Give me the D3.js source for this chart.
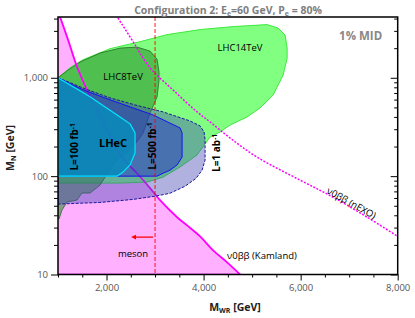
<!DOCTYPE html>
<html>
<head>
<meta charset="utf-8">
<script src="https://cdn.jsdelivr.net/npm/d3@7"></script>
<style>
  body { margin: 0; background: #fff; }
</style>
</head>
<body>
<div id="chart"></div>
<script>
const W = 415,
    H = 318,
    margin = {top: 17, right: 17.3, bottom: 43.5, left: 58};

// curves and regions, [M_WR (GeV), M_N (GeV)]
const kamland = [[1000, 4760], [1206, 2444], [1392, 1294], [1598, 755], [1825, 450], [2031, 281],
    [2217, 184], [2423, 136], [2629, 107], [2897, 75.5], [3103, 56.9], [3454, 38.2], [3660, 31.6],
    [3928, 24.4], [4196, 17.6], [4485, 13.3], [4753, 10]];

const nexo = [[2120, 5000], [2547, 2329], [2897, 1265], [3413, 719], [3866, 450], [4134, 356],
    [4547, 244], [5103, 156], [5990, 91], [6671, 61], [7372, 38.2], [8000, 24.4]];

const lhc14 = [[1000, 1000], [1247, 1265], [1515, 1527], [2072, 1977], [2691, 2329], [3247, 2747],
    [3928, 3090], [4608, 3314], [5309, 3474], [5536, 3200], [5680, 2716], [5722, 2006], [5722, 1585],
    [5639, 1065], [5433, 667], [5165, 494], [4897, 400], [4547, 331], [4340, 281], [4134, 250],
    [3866, 164], [3516, 124], [3165, 97.7], [2835, 86.9], [2278, 85], [1866, 85], [1000, 85]];

const lhc8 = [[1000, 1000], [1206, 1197], [1454, 1445], [1866, 1784], [2278, 2004], [2629, 2051],
    [2897, 1867], [3041, 1549], [3082, 1143], [3082, 948], [3041, 637], [2897, 438], [2753, 274],
    [2546, 198], [2216, 146], [2010, 105], [1866, 81], [1660, 67.3], [1495, 67.3], [1392, 57.2],
    [1186, 54.6], [1082, 45.2], [1021, 36.6], [1000, 36.6]];

const lhec100 = [[1000, 1000], [1660, 640], [2278, 400], [2485, 340], [2588, 275], [2588, 172],
    [2485, 130], [2340, 110], [2216, 100], [1000, 100]];

const lhec500 = [[1000, 1000], [1515, 755], [2072, 597], [2546, 494], [2959, 419], [3516, 309],
    [3557, 275], [3557, 156], [3454, 130], [3309, 115], [3165, 107], [3041, 100], [1000, 100]];

const lhec1000 = [[1000, 1000], [1557, 773], [2072, 625], [2588, 530], [3165, 450], [3722, 364],
    [3928, 324], [4010, 281], [4031, 233], [4031, 146], [3969, 115], [3845, 95], [3619, 79],
    [3309, 67], [3000, 62.5], [2546, 58], [1866, 54], [1000, 52]];

const mesonBound = 3000;

const xMajor = [2000, 4000, 6000, 8000],
    xMinor = [1000, 1500, 2500, 3000, 3500, 4500, 5000, 5500, 6500, 7000, 7500],
    yMajor = [10, 100, 1000],
    yMinor = [20, 30, 40, 50, 60, 70, 80, 90, 200, 300, 400, 500, 600, 700, 800, 900, 2000, 3000, 4000];

const x = d3.scaleLinear().domain([1000, 8000]).range([margin.left, W - margin.right]);
const y = d3.scaleLog().domain([10, 4150]).range([H - margin.bottom, margin.top]);

const svg = d3.select('#chart').append('svg')
    .attr('width', W)
    .attr('height', H)
    .style('font-family', 'Open Sans');

svg.append('clipPath').attr('id', 'plot-clip')
    .append('rect')
    .attr('x', margin.left).attr('y', margin.top)
    .attr('width', W - margin.left - margin.right)
    .attr('height', H - margin.top - margin.bottom);

const plot = svg.append('g').attr('clip-path', 'url(#plot-clip)');

const line = d3.line().x(d => x(d[0])).y(d => y(d[1]));
const smooth = d3.line().x(d => x(d[0])).y(d => y(d[1])).curve(d3.curveCatmullRom);
const region = d3.line().x(d => x(d[0])).y(d => y(d[1])).curve(d3.curveLinearClosed);

// excluded by 0vbb (Kamland)
const kamArea = d3.area().x(d => x(d[0])).y0(y(10)).y1(d => y(d[1])).curve(d3.curveCatmullRom);
plot.append('path').attr('d', kamArea(kamland)).attr('fill', '#ffb0ff');
plot.append('path').attr('d', line([[1000, 10], [4753, 10]]))
    .attr('stroke', '#ff00ff').attr('stroke-width', 1.5).attr('fill', 'none');

// LHC
plot.append('path').attr('d', region(lhc14))
    .attr('fill', '#80ff80').attr('stroke', '#3ee83e').attr('stroke-width', 1);
plot.append('path').attr('d', region(lhc8))
    .attr('fill', '#268a26').attr('fill-opacity', 0.55)
    .attr('stroke', '#2a6a2a').attr('stroke-width', 0.8);

plot.append('path').attr('d', smooth(nexo))
    .attr('fill', 'none').attr('stroke', '#ff00ff').attr('stroke-width', 1.5)
    .attr('stroke-dasharray', '2,1.5');

plot.append('path').attr('d', smooth(kamland))
    .attr('fill', 'none').attr('stroke', '#ff00ff').attr('stroke-width', 1.8);

// LHeC
plot.append('path').attr('d', region(lhec1000))
    .attr('fill', '#4646b4').attr('fill-opacity', 0.42)
    .attr('stroke', '#1a1a99').attr('stroke-width', 1).attr('stroke-dasharray', '3,1.5');
plot.append('path').attr('d', region(lhec500))
    .attr('fill', '#2424d0').attr('fill-opacity', 0.45)
    .attr('stroke', '#1414ee').attr('stroke-width', 1);
plot.append('path').attr('d', region(lhec100))
    .attr('fill', '#088cba').attr('fill-opacity', 0.86)
    .attr('stroke', '#00e8ff').attr('stroke-width', 1.2);

plot.append('line')
    .attr('x1', x(mesonBound)).attr('x2', x(mesonBound))
    .attr('y1', margin.top).attr('y2', H - margin.bottom)
    .attr('stroke', '#ff0000').attr('stroke-width', 0.9).attr('stroke-dasharray', '4,2');

// meson arrow
svg.append('defs').append('marker')
    .attr('id', 'arrow').attr('viewBox', '0 0 10 10')
    .attr('refX', 5).attr('refY', 5)
    .attr('markerWidth', 4).attr('markerHeight', 4)
    .attr('orient', 'auto-start-reverse')
    .append('path').attr('d', 'M0,0L10,5L0,10z').attr('fill', '#ff0000');

plot.append('line')
    .attr('x1', x(2959)).attr('x2', x(2560))
    .attr('y1', y(24)).attr('y2', y(24))
    .attr('stroke', '#ff0000').attr('stroke-width', 1.3)
    .attr('marker-end', 'url(#arrow)');

// axes
const bottom = H - margin.bottom, right = W - margin.right;

function styleAxis(g) {
    g.select('.domain').remove();
    g.selectAll('.tick line').attr('stroke', '#000').attr('stroke-width', 1);
    g.selectAll('.tick text').attr('fill', '#555').style('font-size', '9.5px')
        .style('font-family', 'Open Sans');
}

svg.append('g').attr('transform', `translate(0,${bottom})`)
    .call(d3.axisBottom(x).tickValues(xMajor).tickFormat(d3.format(',')).tickSize(6).tickPadding(4))
    .call(styleAxis);
svg.append('g').attr('transform', `translate(0,${bottom})`)
    .call(d3.axisBottom(x).tickValues(xMinor).tickFormat('').tickSize(3))
    .call(styleAxis);

svg.append('g').attr('transform', `translate(${margin.left},0)`)
    .call(d3.axisLeft(y).tickValues(yMajor).tickFormat(d3.format(',')).tickSize(7).tickPadding(3))
    .call(styleAxis);
svg.append('g').attr('transform', `translate(${margin.left},0)`)
    .call(d3.axisLeft(y).tickValues(yMinor).tickFormat('').tickSize(4))
    .call(styleAxis);

svg.append('g').attr('transform', `translate(${right},0)`)
    .call(d3.axisRight(y).tickValues(yMajor).tickFormat('').tickSize(-7))
    .call(styleAxis);
svg.append('g').attr('transform', `translate(${right},0)`)
    .call(d3.axisRight(y).tickValues(yMinor).tickFormat('').tickSize(-3.5))
    .call(styleAxis);

svg.append('rect')
    .attr('x', margin.left).attr('y', margin.top)
    .attr('width', right - margin.left).attr('height', bottom - margin.top)
    .attr('fill', 'none').attr('stroke', '#000').attr('stroke-width', 1.5);

// titles
const title = svg.append('text')
    .attr('x', 228).attr('y', 13.5)
    .attr('text-anchor', 'middle')
    .attr('fill', '#808080')
    .style('font-size', '10.5px').style('font-weight', 'bold');
title.append('tspan').text('Configuration 2: E');
title.append('tspan').text('e').attr('dy', 2).style('font-size', '7px');
title.append('tspan').text('=60 GeV, P').attr('dy', -2);
title.append('tspan').text('e').attr('dy', 2).style('font-size', '7px');
title.append('tspan').text(' = 80%').attr('dy', -2);

const xTitle = svg.append('text')
    .attr('x', 235).attr('y', 311)
    .attr('text-anchor', 'middle')
    .attr('fill', '#222')
    .style('font-size', '10.5px').style('font-weight', 'bold');
xTitle.append('tspan').text('M');
xTitle.append('tspan').text('WR').attr('dy', 2).style('font-size', '7px');
xTitle.append('tspan').text(' [GeV]').attr('dy', -2);

const yTitle = svg.append('text')
    .attr('transform', 'translate(14,148) rotate(-90)')
    .attr('text-anchor', 'middle')
    .attr('fill', '#222')
    .style('font-size', '10.5px').style('font-weight', 'bold');
yTitle.append('tspan').text('M');
yTitle.append('tspan').text('N').attr('dy', 2).style('font-size', '7px');
yTitle.append('tspan').text(' [GeV]').attr('dy', -2);

// labels
function label(text, px, py, size, weight, anchor, fill) {
    return svg.append('text')
        .attr('x', px).attr('y', py)
        .attr('text-anchor', anchor || 'middle')
        .attr('fill', fill || '#000')
        .style('font-size', size + 'px')
        .style('font-weight', weight || 'normal')
        .text(text);
}

label('LHC14TeV', x(4750), y(1870), 9.5);
label('LHC8TeV', x(2340), y(948), 9.5);
label('LHeC', x(2134), y(198), 11, 'bold');
label('1% MID', x(7680), y(2415), 11.5, 'bold', 'end', '#888');
label('meson', x(2546), y(15.1), 9.5);
label('ν0ββ (Kamland)', x(4484), y(14.4), 9.5, 'normal', 'start');

svg.append('text')
    .attr('transform', `translate(${x(7015)},${y(49.7)}) rotate(29)`)
    .attr('text-anchor', 'middle')
    .style('font-size', '9.5px')
    .text('ν0ββ (nEXO)');

function lumi(main, px, py) {
    const t = svg.append('text')
        .attr('transform', `translate(${px},${py}) rotate(-90)`)
        .attr('text-anchor', 'middle')
        .attr('dy', '0.35em')
        .style('font-size', '10px').style('font-weight', 'bold');
    t.append('tspan').text(main);
    t.append('tspan').text('-1').attr('dy', -3.5).style('font-size', '6.5px');
}
lumi('L=100 fb', x(1350), y(198));
lumi('L=500 fb', x(2938), y(202));
lumi('L=1 ab', x(4268), y(172));
</script>
</body>
</html>
